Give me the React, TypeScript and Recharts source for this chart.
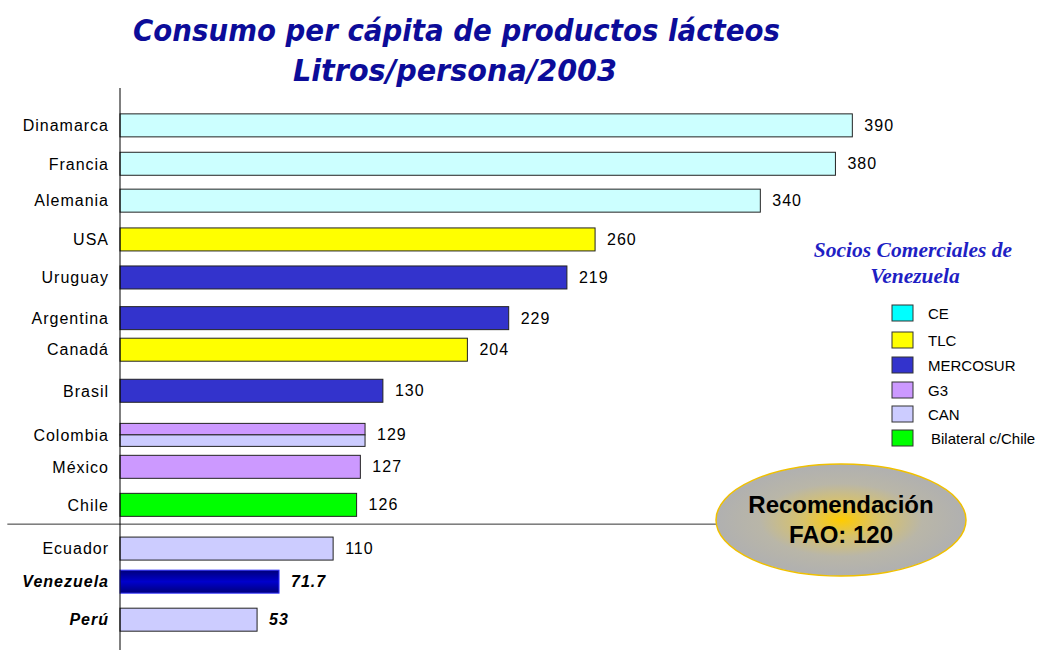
// Consumo per cápita de productos lácteos, litros/persona, 2003.
// Horizontal bars on a numeric category axis, since the rows of the original slide are not evenly spaced.

import { BarChart, Bar, XAxis, YAxis, LabelList, ReferenceLine } from "recharts";

const countries = [
  "Dinamarca", "Francia", "Alemania", "USA", "Uruguay", "Argentina", "Canadá",
  "Brasil", "Colombia", "México", "Chile", "Ecuador", "Venezuela", "Perú",
];
// figures printed next to each bar
const printedValues = ["390", "380", "340", "260", "219", "229", "204", "130", "129", "127", "126", "110", "71.7", "53"];
// bar lengths as drawn on the slide (they do not follow the printed figures exactly)
const barLengths = [390, 381, 341, 253, 238, 207, 185, 140, 130.5, 128, 126, 113.5, 84.7, 73];
// row slot of each country on the category axis
const rowSlots = [0, 1.01, 1.98, 3.0, 4.0, 5.07, 5.9, 6.98, 8.14, 8.98, 9.98, 11.13, 12.0, 13.0];
// trade group of each country ("+" = bar split between two groups)
const partners = ["CE", "CE", "CE", "TLC", "MERCOSUR", "MERCOSUR", "TLC", "MERCOSUR", "G3+CAN", "G3", "Chile", "CAN", "VEN", "CAN"];
const emphasized = ["Venezuela", "Perú"];
// slot between Chile and Ecuador where the divider runs
const dividerSlot = 10.48;

const legendGroups = ["CE", "TLC", "MERCOSUR", "G3", "CAN", "Chile"];
const legendLabels = ["CE", "TLC", "MERCOSUR", "G3", "CAN", "Bilateral c/Chile"];
const faoRecommendation = 120;

const barFill: Record<string, string> = {
  CE: "#ccffff",
  TLC: "#ffff00",
  MERCOSUR: "#3333cc",
  G3: "#cc99ff",
  CAN: "#ccccff",
  Chile: "#00ff00",
  VEN: "url(#venGrad)",
};
const legendFill: Record<string, string> = { ...barFill, CE: "#00ffff" };

const data = countries.map((name, i) => ({
  name,
  slot: rowSlots[i],
  length: barLengths[i],
  printed: printedValues[i],
  partner: partners[i],
}));

const FONT = "'Liberation Sans', Arial, sans-serif";

function PartnerBar(props: any) {
  const { x, y, width, height, payload } = props;
  const group: string = payload.partner;
  if (group.includes("+")) {
    const [a, b] = group.split("+");
    const h = height / 2;
    return (
      <g>
        <rect x={x} y={y} width={width} height={h} fill={barFill[a]} stroke="#222" />
        <rect x={x} y={y + h} width={width} height={h} fill={barFill[b]} stroke="#222" />
      </g>
    );
  }
  const ven = group === "VEN";
  return (
    <rect
      x={x}
      y={y}
      width={width}
      height={height}
      fill={barFill[group]}
      stroke={ven ? "#3333ff" : "#222"}
      strokeWidth={1}
    />
  );
}

function CountryTick(props: any) {
  const { x, y, payload } = props;
  const i = rowSlots.indexOf(payload.value);
  if (i < 0) return null;
  const strong = emphasized.includes(countries[i]);
  return (
    <text
      x={x}
      y={y + 5.5}
      textAnchor="end"
      fontFamily={FONT}
      fontSize={16}
      letterSpacing={1}
      fontWeight={strong ? "bold" : "normal"}
      fontStyle={strong ? "italic" : "normal"}
      fill="#000"
    >
      {countries[i]}
    </text>
  );
}

function ValueLabel(props: any) {
  const { x, y, width, height, value } = props;
  const i = printedValues.indexOf(String(value));
  const strong = emphasized.includes(countries[i]);
  return (
    <text
      x={x + width + 12}
      y={y + height / 2 + 5.5}
      fontFamily={FONT}
      fontSize={16}
      letterSpacing={1}
      fontWeight={strong ? "bold" : "normal"}
      fontStyle={strong ? "italic" : "normal"}
      fill="#000"
    >
      {value}
    </text>
  );
}

export default function App() {
  return (
    <div style={{ position: "absolute", left: 0, top: 0, width: 1042, height: 650, background: "#fff" }}>
      <BarChart
        layout="vertical"
        width={1042}
        height={650}
        data={data}
        margin={{ top: 88, right: 77, bottom: 0, left: 0 }}
      >
        <defs>
          <linearGradient id="venGrad" x1="0" y1="0" x2="0" y2="1">
            <stop offset="0%" stopColor="#00007a" />
            <stop offset="50%" stopColor="#0000cc" />
            <stop offset="100%" stopColor="#00007a" />
          </linearGradient>
        </defs>
        <XAxis type="number" dataKey="length" domain={[0, 450]} hide />
        <YAxis
          type="number"
          dataKey="slot"
          domain={[-0.99, 13.79]}
          ticks={rowSlots}
          interval={0}
          width={120}
          tickLine={false}
          tickSize={0}
          tickMargin={11}
          axisLine={{ stroke: "#000", strokeWidth: 1 }}
          tick={<CountryTick />}
        />
        <ReferenceLine
          segment={[{ x: -60, y: dividerSlot }, { x: 330, y: dividerSlot }]}
          ifOverflow="visible"
          stroke="#333"
          strokeWidth={1}
        />
        <Bar dataKey="length" barSize={23} shape={<PartnerBar />} isAnimationActive={false}>
          <LabelList dataKey="printed" content={<ValueLabel />} />
        </Bar>
      </BarChart>

      <svg
        width={1042}
        height={650}
        style={{ position: "absolute", left: 0, top: 0, pointerEvents: "none" }}
      >
        <defs>
          <radialGradient id="faoGrad" cx="50%" cy="50%" r="50%">
            <stop offset="0%" stopColor="#ffcc00" />
            <stop offset="30%" stopColor="#d8c26a" />
            <stop offset="65%" stopColor="#b9b6a8" />
            <stop offset="100%" stopColor="#b0b0b0" />
          </radialGradient>
        </defs>

        <g fontFamily="'DejaVu Sans', sans-serif" fontWeight="bold" fontStyle="italic" fontSize={31} fill="#0c0c99">
          <text x={133} y={41} textLength={647} lengthAdjust="spacingAndGlyphs">
            Consumo per cápita de productos lácteos
          </text>
          <text x={293} y={81} textLength={324} lengthAdjust="spacingAndGlyphs">
            Litros/persona/2003
          </text>
        </g>

        <g fontFamily="'Liberation Serif', 'Times New Roman', serif" fontWeight="bold" fontStyle="italic" fontSize={21.5} fill="#1f1fc4" textAnchor="middle">
          <text x={913} y={257}>Socios Comerciales de</text>
          <text x={915} y={283}>Venezuela</text>
        </g>

        {legendGroups.map((g, i) => {
          const ys = [305, 332, 357, 382, 406, 430];
          return (
            <g key={g}>
              <rect x={892} y={ys[i]} width={21} height={16} fill={legendFill[g]} stroke="#333" strokeWidth={1} />
              <text x={i === 5 ? 931 : 928} y={ys[i] + 13.5} fontFamily={FONT} fontSize={15} fill="#000">
                {legendLabels[i]}
              </text>
            </g>
          );
        })}

        <ellipse cx={841} cy={520} rx={125} ry={56} fill="url(#faoGrad)" stroke="#f0c000" strokeWidth={1.5} />
        <g fontFamily={FONT} fontWeight="bold" fontSize={24} fill="#000" textAnchor="middle">
          <text x={841} y={513}>Recomendación</text>
          <text x={841} y={543}>FAO: {faoRecommendation}</text>
        </g>
      </svg>
    </div>
  );
}
